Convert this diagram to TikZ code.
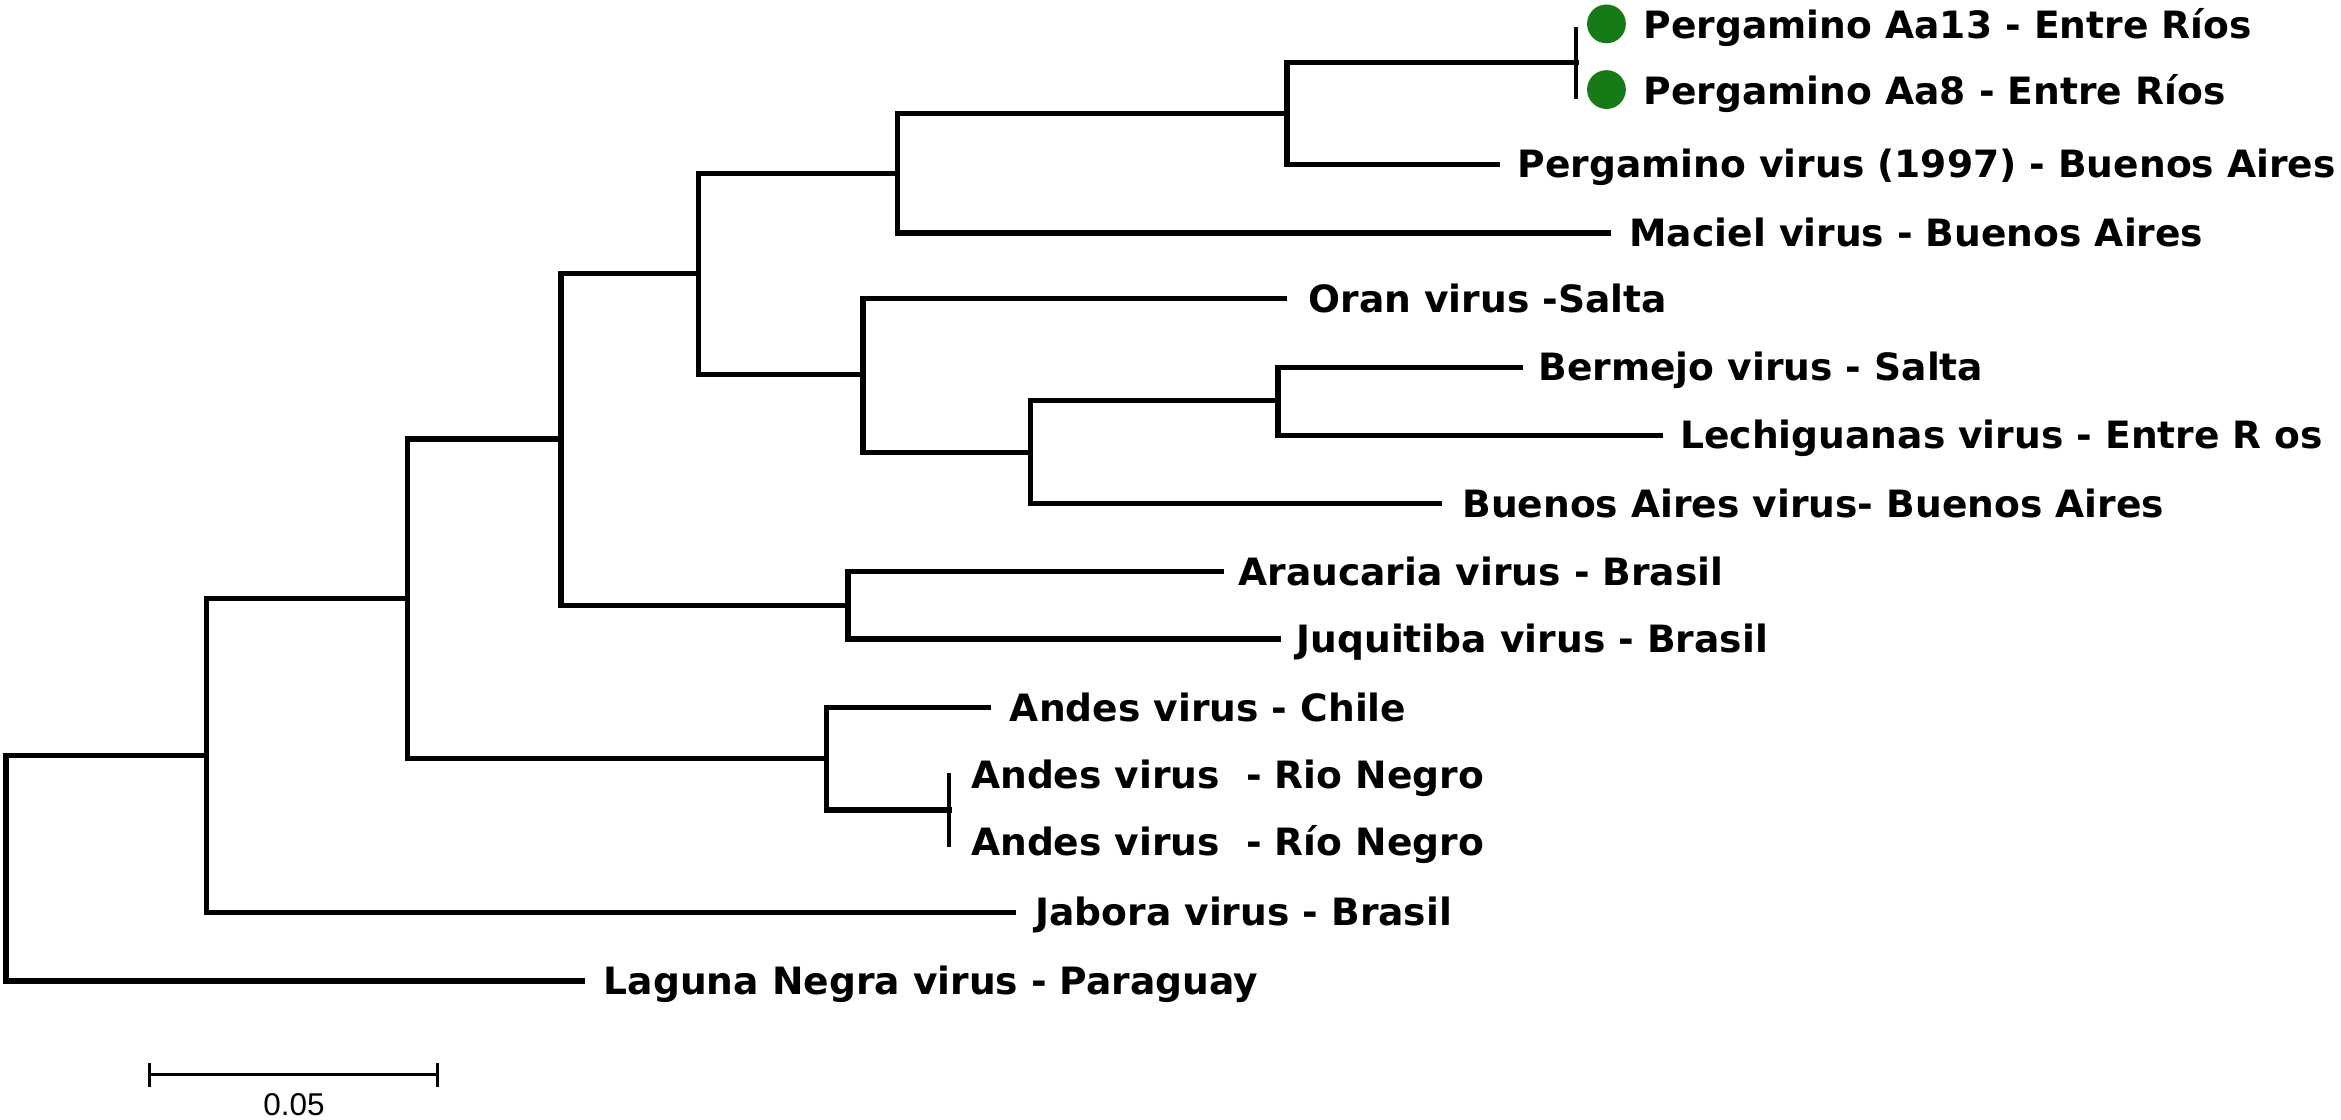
\documentclass[tikz,border=0pt]{standalone}
\usepackage{fontspec}
\newfontfamily\labfont{DejaVu Sans}
\newfontfamily\barlabfont{Liberation Sans}
\definecolor{dotgreen}{RGB}{22,122,22}
\begin{document}
\begin{tikzpicture}[x=0.015cm,y=-0.015cm,
  br/.style={line width=1.5pt, line join=miter, line cap=rect},
  tick/.style={line width=1.1pt},
  lab/.style={anchor=base west, inner sep=0pt, font=\labfont\bfseries\fontsize{10.75}{12}\selectfont},
  gdot/.style={circle, fill=dotgreen, inner sep=0pt, minimum size=0.39cm}]
\useasboundingbox (0,0) rectangle (1568,750);
% internal nodes
\coordinate (R) at (4,581.5);
\coordinate (A) at (138.5,506);
\coordinate (B) at (273,401);
\coordinate (C) at (375.7,294);
\coordinate (F) at (568,405.5);
\coordinate (G) at (468,183);
\coordinate (H) at (601,116);
\coordinate (I) at (862,76);
\coordinate (J) at (1055.6,42);
\coordinate (K) at (578,251);
\coordinate (L) at (690,303);
\coordinate (M) at (856,268.5);
\coordinate (D) at (553.6,508);
\coordinate (E) at (635.6,542.5);
% leaf tips
\coordinate (tAa13) at (1055.6,18);
\coordinate (tAa8) at (1055.6,66);
\coordinate (tP97) at (1003,110);
\coordinate (tMac) at (1077,156);
\coordinate (tOra) at (860,200);
\coordinate (tBer) at (1018,246);
\coordinate (tLec) at (1112,291.5);
\coordinate (tBsA) at (964,337.5);
\coordinate (tAra) at (818,383);
\coordinate (tJuq) at (856,428);
\coordinate (tChi) at (662,474);
\coordinate (tRN1) at (635.6,518);
\coordinate (tRN2) at (635.6,567);
\coordinate (tJab) at (679,611);
\coordinate (tLag) at (390,657);
% branches
\draw[br] (R) |- (A);
\draw[br] (R) |- (tLag);
\draw[br] (A) |- (B);
\draw[br] (A) |- (tJab);
\draw[br] (B) |- (C);
\draw[br] (B) |- (D);
\draw[br] (C) |- (G);
\draw[br] (C) |- (F);
\draw[br] (F) |- (tAra);
\draw[br] (F) |- (tJuq);
\draw[br] (G) |- (H);
\draw[br] (G) |- (K);
\draw[br] (H) |- (I);
\draw[br] (H) |- (tMac);
\draw[br] (I) |- (J);
\draw[br] (I) |- (tP97);
\draw[tick] (tAa13) -- (tAa8);
\draw[br] (K) |- (tOra);
\draw[br] (K) |- (L);
\draw[br] (L) |- (M);
\draw[br] (L) |- (tBsA);
\draw[br] (M) |- (tBer);
\draw[br] (M) |- (tLec);
\draw[br] (D) |- (tChi);
\draw[br] (D) |- (E);
\draw[tick] (tRN1) -- (tRN2);
% dots
\node[gdot] (dAa13) at (1076,16) {};
\node[gdot] (dAa8) at (1076,60) {};
% labels
\node[lab] (lAa13) at (1100.5,26) {Pergamino Aa13 - Entre Ríos};
\node[lab] (lAa8) at (1100.5,70) {Pergamino Aa8 - Entre Ríos};
\node[lab] (lP97) at (1016,119) {Pergamino virus (1997) - Buenos Aires};
\node[lab] (lMac) at (1091,165) {Maciel virus - Buenos Aires};
\node[lab] (lOra) at (876,209) {Oran virus -Salta};
\node[lab] (lBer) at (1030,255) {Bermejo virus - Salta};
\node[lab] (lLec) at (1125,300.5) {Lechiguanas virus - Entre R os};
\node[lab] (lBsA) at (979,346.5) {Buenos Aires virus- Buenos Aires};
\node[lab] (lAra) at (829,392) {Araucaria virus - Brasil};
\node[lab] (lJuq) at (868,437) {Juquitiba virus - Brasil};
\node[lab] (lChi) at (676,483) {Andes virus - Chile};
\node[lab] (lRN1) at (650,528) {Andes virus~~- Rio Negro};
\node[lab] (lRN2) at (650,573) {Andes virus~~- Río Negro};
\node[lab] (lJab) at (693,620) {Jabora virus - Brasil};
\node[lab] (lLag) at (404,666) {Laguna Negra virus - Paraguay};
% scale bar
\coordinate (s1) at (100,719.6);
\coordinate (s2) at (293,719.6);
\coordinate (s1a) at (100,712);
\coordinate (s1b) at (100,728);
\coordinate (s2a) at (293,712);
\coordinate (s2b) at (293,728);
\draw[line width=1pt] (s1) -- (s2);
\draw[line width=1pt] (s1a) -- (s1b);
\draw[line width=1pt] (s2a) -- (s2b);
\node[inner sep=0pt, font=\barlabfont\fontsize{9}{10}\selectfont] (sl) at (197,740) {0.05};
\end{tikzpicture}
\end{document}
